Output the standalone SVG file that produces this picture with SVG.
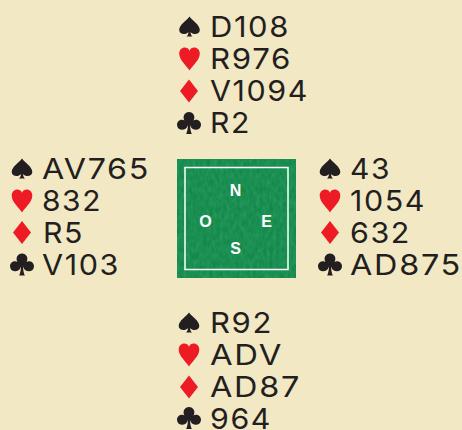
<svg xmlns="http://www.w3.org/2000/svg" width="462" height="430" viewBox="0 0 462 430">
<style>
.t{font-family:"Inter","Liberation Sans",sans-serif;font-size:29px;font-weight:400;fill:#231f20;letter-spacing:1.500px}
.c{font-family:"Liberation Sans",Arial,sans-serif;font-size:16px;font-weight:700;fill:#fff;text-anchor:middle}
.k{fill:#231f20}.r{fill:#ed1c24}
</style>
<defs>
<filter id="felt" x="0" y="0" width="100%" height="100%"><feTurbulence type="fractalNoise" baseFrequency="0.3 0.15" numOctaves="2" seed="4"/><feColorMatrix values="0 0 0 0 0.1  0 0 0 0 0.6  0 0 0 0 0.32  0 0 0 0.4 0"/></filter>
<path id="sp" d="M0-10C2.500-6 10.300-2 10.300 3.500C10.300 7.800 4 9 1 5.500C1.200 7.500 1.800 9 3 10H-3C-1.800 9-1.200 7.500-1 5.500C-4 9-10.300 7.800-10.300 3.500C-10.300-2-2.500-6 0-10Z"/>
<path id="he" d="M0 12C-2.500 7.500-10.300 1.500-10.300-4.800C-10.300-8.800-7.500-11-4.800-11C-2.600-11-.9-9.800 0-7.800C.9-9.800 2.600-11 4.800-11C7.500-11 10.300-8.800 10.300-4.800C10.300 1.500 2.500 7.500 0 12Z"/>
<path id="di" d="M0-11.500L9 0L0 11.500L-9 0Z"/>
<path id="cl" d="M-1 2C-2 5.500-4.800 7-7.400 6.800C-10.200 6.600-12 4.300-12 1.700C-12-1.300-9.600-3.500-6.800-3.300C-5.900-3.200-5.200-3-4.600-2.600C-6.700-6.500-4.500-11 0-11C4.500-11 6.700-6.500 4.600-2.600C5.200-3 5.900-3.200 6.800-3.300C9.600-3.500 12-1.300 12 1.700C12 4.300 10.200 6.600 7.400 6.800C4.800 7 2 5.500 1 2C1.200 6 1.800 8.800 2.800 11H-2.800C-1.800 8.800-1.200 6-1 2Z"/>
</defs>
<rect width="462" height="430" fill="#f2e8c4"/>
<g id="table">
<rect x="177" y="159" width="119" height="119" fill="#0b8040"/>
<rect x="177" y="159" width="119" height="119" filter="url(#felt)"/>
<rect x="185" y="167.500" width="103" height="102" fill="none" stroke="#fff" stroke-width="1.500"/>
<text class="c" x="235.500" y="196">N</text>
<text class="c" x="205.500" y="226.500">O</text>
<text class="c" x="266.500" y="226.500">E</text>
<text class="c" x="235.500" y="254">S</text>
</g>
<g id="north">
<use href="#sp" class="k" x="189.500" y="26.500"/><text class="t" x="210" y="37" textLength="80" lengthAdjust="spacingAndGlyphs">D108</text>
<use href="#he" class="r" x="189.500" y="58.500"/><text class="t" x="210" y="69" textLength="82" lengthAdjust="spacingAndGlyphs">R976</text>
<use href="#di" class="r" x="189" y="91"/><text class="t" x="210" y="101" textLength="99" lengthAdjust="spacingAndGlyphs">V1094</text>
<use href="#cl" class="k" x="189" y="123"/><text class="t" x="210" y="133" textLength="41" lengthAdjust="spacingAndGlyphs">R2</text>
</g>
<g id="west">
<use href="#sp" class="k" x="22" y="168.500"/><text class="t" x="42" y="179" textLength="108" lengthAdjust="spacingAndGlyphs">AV765</text>
<use href="#he" class="r" x="22" y="200.500"/><text class="t" x="42" y="211" textLength="60" lengthAdjust="spacingAndGlyphs">832</text>
<use href="#di" class="r" x="22" y="232.500"/><text class="t" x="43" y="243" textLength="41" lengthAdjust="spacingAndGlyphs">R5</text>
<use href="#cl" class="k" x="22" y="264.500"/><text class="t" x="42" y="275" textLength="78" lengthAdjust="spacingAndGlyphs">V103</text>
</g>
<g id="east">
<use href="#sp" class="k" x="330" y="168.500"/><text class="t" x="350" y="179" textLength="41" lengthAdjust="spacingAndGlyphs">43</text>
<use href="#he" class="r" x="330" y="200.500"/><text class="t" x="350" y="211" textLength="76" lengthAdjust="spacingAndGlyphs">1054</text>
<use href="#di" class="r" x="330" y="232.500"/><text class="t" x="350" y="243" textLength="61" lengthAdjust="spacingAndGlyphs">632</text>
<use href="#cl" class="k" x="330" y="264.500"/><text class="t" x="350" y="275" textLength="112" lengthAdjust="spacingAndGlyphs">AD875</text>
</g>
<g id="south">
<use href="#sp" class="k" x="189" y="322.500"/><text class="t" x="210" y="333" textLength="63" lengthAdjust="spacingAndGlyphs">R92</text>
<use href="#he" class="r" x="189" y="354.500"/><text class="t" x="210" y="365" textLength="73" lengthAdjust="spacingAndGlyphs">ADV</text>
<use href="#di" class="r" x="189" y="387"/><text class="t" x="210" y="397" textLength="91" lengthAdjust="spacingAndGlyphs">AD87</text>
<use href="#cl" class="k" x="189" y="418"/><text class="t" x="210" y="428.500" textLength="62" lengthAdjust="spacingAndGlyphs">964</text>
</g>
</svg>
